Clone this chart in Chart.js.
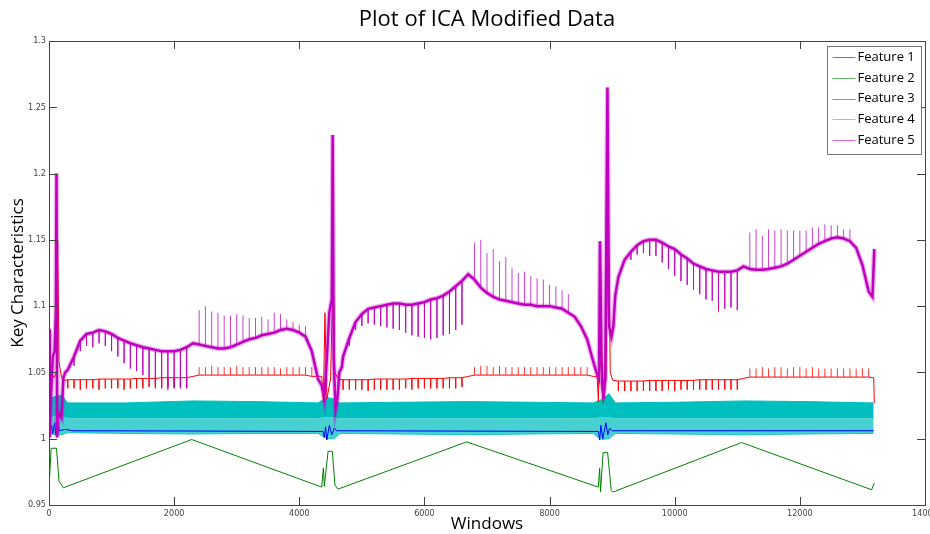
<!DOCTYPE html>
<html>
<head>
<meta charset="utf-8">
<title>Plot of ICA Modified Data</title>
<script src="https://cdn.jsdelivr.net/npm/chart.js@4.4.1/dist/chart.umd.min.js"></script>
<style>
  html, body { margin: 0; padding: 0; background: #fff; }
  #wrap { width: 930px; height: 534px; }
</style>
</head>
<body>
<div id="wrap"><canvas id="myChart" width="930" height="534"></canvas></div>
<script>
// series names and colours (MATLAB default-ish)
var labels = ['Feature 1', 'Feature 2', 'Feature 3', 'Feature 4', 'Feature 5'];
var colors = ['#0000ff', '#008000', '#ff0000', '#00bfbf', '#bf00bf'];

var xTicks = [0, 2000, 4000, 6000, 8000, 10000, 12000, 14000];
var yTicks = [0.95, 1, 1.05, 1.1, 1.15, 1.2, 1.25, 1.3];

// sample windows for the periodic features 3 and 5
var windows = [
  0, 100, 200, 300, 400, 500, 600, 700, 800, 900,
  1000, 1100, 1200, 1300, 1400, 1500, 1600, 1700, 1800, 1900,
  2000, 2100, 2200, 2300, 2400, 2500, 2600, 2700, 2800, 2900,
  3000, 3100, 3200, 3300, 3400, 3500, 3600, 3700, 3800, 3900,
  4000, 4100, 4200, 4300, 4400, 4500, 4600, 4700, 4800, 4900,
  5000, 5100, 5200, 5300, 5400, 5500, 5600, 5700, 5800, 5900,
  6000, 6100, 6200, 6300, 6400, 6500, 6600, 6700, 6800, 6900,
  7000, 7100, 7200, 7300, 7400, 7500, 7600, 7700, 7800, 7900,
  8000, 8100, 8200, 8300, 8400, 8500, 8600, 8700, 8800, 8900,
  9000, 9100, 9200, 9300, 9400, 9500, 9600, 9700, 9800, 9900,
  10000, 10100, 10200, 10300, 10400, 10500, 10600, 10700, 10800, 10900,
  11000, 11100, 11200, 11300, 11400, 11500, 11600, 11700, 11800, 11900,
  12000, 12100, 12200, 12300, 12400, 12500, 12600, 12700, 12800, 12900,
  13000, 13100, 13200
];

// Feature 5: band centre and spike tips
var f5Base = [
  null, null, null, 1.052, 1.062, 1.074, 1.079, 1.080, 1.082, 1.081,
  1.079, 1.076, 1.074, 1.072, 1.0705, 1.069, 1.068, 1.067, 1.066, 1.066,
  1.066, 1.067, 1.069, 1.072, 1.071, 1.070, 1.069, 1.068, 1.068, 1.069,
  1.071, 1.073, 1.075, 1.076, 1.078, 1.079, 1.080, 1.082, 1.083, 1.082,
  1.080, 1.077, 1.066, 1.045, null, null, null, 1.062, 1.076, 1.088,
  1.094, 1.098, 1.099, 1.100, 1.101, 1.102, 1.102, 1.101, 1.101, 1.102,
  1.103, 1.105, 1.106, 1.108, 1.111, 1.115, 1.119, 1.124, 1.120, 1.114,
  1.110, 1.107, 1.105, 1.104, 1.103, 1.102, 1.101, 1.101, 1.100, 1.100,
  1.100, 1.099, 1.098, 1.095, 1.092, 1.085, 1.075, 1.058, null, null,
  null, 1.122, 1.135, 1.141, 1.146, 1.149, 1.150, 1.150, 1.148, 1.145,
  1.143, 1.139, 1.136, 1.132, 1.130, 1.128, 1.127, 1.126, 1.126, 1.126,
  1.127, 1.130, 1.128, 1.1275, 1.1275, 1.128, 1.129, 1.130, 1.132, 1.135,
  1.138, 1.141, 1.144, 1.147, 1.149, 1.151, 1.152, 1.151, 1.149, 1.144,
  1.131, 1.111, null
];
var f5Tip = [
  null, null, null, null, 1.055, 1.066, 1.070, 1.069, 1.072, 1.070,
  1.066, 1.062, 1.057, 1.053, 1.051, 1.048, 1.045, 1.041, 1.039, 1.037,
  1.038, 1.039, 1.038, null, 1.097, 1.100, 1.096, 1.095, 1.093, 1.093,
  1.094, 1.093, 1.091, 1.091, 1.092, 1.090, 1.095, 1.094, 1.090, 1.088,
  1.086, 1.085, null, null, null, null, null, null, 1.070, 1.082,
  1.085, 1.087, 1.086, 1.085, 1.084, 1.083, 1.082, 1.080, 1.078, 1.077,
  1.076, 1.075, 1.076, 1.078, 1.079, 1.082, 1.086, null, 1.148, 1.150,
  1.140, 1.143, 1.134, 1.137, 1.129, 1.125, 1.126, 1.123, 1.121, 1.120,
  1.116, 1.115, 1.112, 1.109, null, null, null, null, null, null,
  null, null, null, 1.135, 1.139, 1.140, 1.138, 1.138, 1.133, 1.128,
  1.123, 1.119, 1.116, 1.1125, 1.109, 1.105, 1.104, 1.096, 1.098, 1.099,
  1.097, null, 1.1555, 1.158, 1.153, 1.158, 1.157, 1.158, 1.157, 1.157,
  1.1567, 1.157, 1.1594, 1.1594, 1.1617, 1.161, 1.161, 1.158, 1.158, null,
  null, null, null
];
// Feature 5 around the restarts
var f5BurstWin = [0, 10, 30, 60, 90, 110, 120, 130, 150, 200, 230, 260,
  4360, 4400, 4440, 4480, 4520, 4534, 4550, 4580, 4610, 4640, 4680,
  8750, 8790, 8806, 8830, 8860, 8890, 8925, 8950, 8990, 9020, 9050,
  13160, 13190];
var f5BurstVal = [1.082, 1.001, 1.030, 1.062, 1.066, 1.095, 1.200, 1.001, 1.020, 1.016, 1.046, 1.050,
  1.040, 1.030, 1.060, 1.095, 1.105, 1.229, 1.060, 1.022, 1.030, 1.050, 1.054,
  1.050, 1.045, 1.149, 1.060, 1.030, 1.045, 1.265, 1.085, 1.077, 1.085, 1.108,
  1.107, 1.143];

// Feature 3: level and sawtooth tips
var f3Base = [
  null, null, null, 1.0445, 1.0445, 1.0445, 1.0445, 1.0445, 1.045, 1.045,
  1.045, 1.045, 1.045, 1.045, 1.0455, 1.0455, 1.0455, 1.0455, 1.046, 1.046,
  1.046, 1.046, 1.046, 1.047, 1.048, 1.048, 1.048, 1.048, 1.048, 1.048,
  1.048, 1.048, 1.048, 1.048, 1.048, 1.048, 1.048, 1.048, 1.048, 1.048,
  1.048, 1.048, 1.047, 1.047, null, null, null, 1.0445, 1.0445, 1.0445,
  1.0445, 1.0445, 1.045, 1.045, 1.045, 1.045, 1.045, 1.045, 1.0455, 1.0455,
  1.0455, 1.0455, 1.0455, 1.0455, 1.046, 1.046, 1.046, 1.047, 1.048, 1.048,
  1.048, 1.048, 1.048, 1.048, 1.048, 1.048, 1.048, 1.048, 1.048, 1.048,
  1.048, 1.048, 1.048, 1.048, 1.048, 1.048, 1.048, 1.047, null, null,
  null, 1.0435, 1.0435, 1.0435, 1.0435, 1.0435, 1.044, 1.044, 1.044, 1.044,
  1.044, 1.044, 1.044, 1.044, 1.0445, 1.0445, 1.0445, 1.0445, 1.0445, 1.0445,
  1.0445, 1.0455, 1.0465, 1.0465, 1.0465, 1.0465, 1.0465, 1.0465, 1.0465, 1.0465,
  1.0465, 1.0465, 1.0465, 1.0465, 1.0465, 1.0465, 1.0465, 1.0465, 1.0465, 1.0465,
  1.0465, 1.0465, null
];
var f3Tip = [
  null, null, null, 1.038, 1.038, 1.037, 1.038, 1.038, 1.037, 1.038,
  1.038, 1.038, 1.037, 1.038, 1.038, 1.038, 1.039, 1.038, 1.038, 1.039,
  1.039, 1.038, 1.039, null, 1.054, 1.054, 1.055, 1.054, 1.054, 1.054,
  1.055, 1.054, 1.054, 1.054, 1.054, 1.054, 1.054, 1.053, 1.054, 1.054,
  1.054, 1.054, 1.054, null, null, null, null, 1.037, 1.037, 1.037,
  1.037, 1.036, 1.037, 1.037, 1.037, 1.037, 1.037, 1.038, 1.037, 1.038,
  1.038, 1.038, 1.038, 1.038, 1.038, 1.038, 1.039, null, 1.054, 1.055,
  1.055, 1.054, 1.055, 1.054, 1.054, 1.054, 1.054, 1.054, 1.054, 1.054,
  1.054, 1.054, 1.054, 1.054, 1.054, 1.054, 1.054, null, null, null,
  null, 1.036, 1.036, 1.036, 1.036, 1.036, 1.036, 1.036, 1.036, 1.037,
  1.036, 1.037, 1.037, 1.037, 1.037, 1.037, 1.037, 1.037, 1.037, 1.037,
  1.037, null, 1.053, 1.053, 1.054, 1.053, 1.054, 1.054, 1.053, 1.054,
  1.054, 1.053, 1.054, 1.053, 1.053, 1.053, 1.053, 1.053, 1.053, 1.053,
  1.053, 1.053, null
];
var f3BurstWin = [0, 15, 40, 80, 120, 139, 160, 200, 250,
  4360, 4385, 4410, 4440, 4500, 4540, 4570, 4620,
  8760, 8780, 8805, 8830, 8860, 8900, 8940, 8970, 9010,
  13180, 13190];
var f3BurstVal = [1.083, 1.044, 1.050, 1.046, 1.050, 1.150, 1.058, 1.046, 1.044,
  1.047, 1.028, 1.095, 1.030, 1.045, 1.128, 1.050, 1.045,
  1.047, 1.028, 1.095, 1.040, 1.027, 1.045, 1.165, 1.050, 1.044,
  1.046, 1.027];

// Feature 4: upper edge, dense middle and lower edge of the oscillating band
var f4Win = [0, 100, 200, 300, 1200, 2300, 3300, 4300, 4400, 4450, 4550, 4650,
  5600, 6700, 7700, 8700, 8800, 8850, 8950, 9050, 10000, 11100, 12100, 13180];
var f4High = [1.030, 1.032, 1.033, 1.027, 1.027, 1.0285, 1.028, 1.027, 1.030, 1.031, 1.030, 1.027,
  1.0275, 1.028, 1.0275, 1.027, 1.029, 1.030, 1.034, 1.027, 1.0275, 1.0285, 1.028, 1.027];
var f4Mid = [1.016, 1.017, 1.017, 1.0155, 1.0155, 1.0155, 1.0155, 1.0155, 1.016, 1.016, 1.016, 1.0155,
  1.0155, 1.0155, 1.0155, 1.0155, 1.016, 1.016, 1.016, 1.0155, 1.0155, 1.0155, 1.0155, 1.0155];
var f4Low = [1.004, 1.003, 1.003, 1.0045, 1.004, 1.0035, 1.004, 1.004, 1.001, 1.000, 1.000, 1.004,
  1.0035, 1.003, 1.0035, 1.004, 1.000, 0.9995, 1.000, 1.004, 1.0035, 1.003, 1.0035, 1.004];

// Feature 1
var f1Win = [0, 40, 60, 90, 110, 140, 160, 250, 400, 2300, 4380, 4400, 4420, 4440, 4480, 4520,
  4560, 4600, 8780, 8800, 8820, 8850, 8900, 8930, 8960, 9000, 13180];
var f1Val = [1.008, 1.010, 1.004, 1.012, 1.003, 1.016, 1.006, 1.007, 1.006, 1.0058, 1.0055, 1.001,
  1.009, 0.999, 1.010, 1.003, 1.008, 1.006, 1.0055, 0.999, 1.010, 1.000, 1.012, 1.003, 1.008, 1.006, 1.006];

// Feature 2
var f2Win = [0, 35, 120, 160, 230, 2280, 4358, 4385, 4400, 4460, 4528, 4570, 4620, 6675,
  8778, 8800, 8815, 8855, 8928, 8985, 9010, 11070, 13147, 13190];
var f2Val = [0.9635, 0.9928, 0.9928, 0.968, 0.963, 0.9994, 0.9635, 0.978, 0.964, 0.9905, 0.9905, 0.965,
  0.962, 0.9976, 0.9635, 0.9777, 0.9597, 0.9895, 0.9895, 0.961, 0.9597, 0.9971, 0.9615, 0.9665];

function pts(xs, ys) {
  var out = [];
  for (var i = 0; i < xs.length; i++) {
    if (ys[i] !== null) out.push({x: xs[i], y: ys[i]});
  }
  return out;
}

function merged(a, b) {
  return a.concat(b).sort(function (p, q) { return p.x - q.x; });
}

// each spike: from the level up/down to its tip, then a break
function spikes(xs, base, tip) {
  var out = [];
  for (var i = 0; i < xs.length; i++) {
    if (tip[i] === null || base[i] === null) continue;
    out.push({x: xs[i], y: base[i]}, {x: xs[i], y: tip[i]}, {x: xs[i], y: null});
  }
  return out;
}

var tickFont = {family: '"Liberation Sans Narrow", "DejaVu Sans Condensed", sans-serif', size: 9};
var textFont = '"Open Sans", "Noto Sans", sans-serif';

// axes box with inward ticks on all sides
var boxPlugin = {
  id: 'box',
  afterDatasetsDraw: function (chart) {
    var a = chart.chartArea, c = chart.ctx;
    var sx = chart.scales.x, sy = chart.scales.y;
    c.save();
    c.strokeStyle = '#444';
    c.lineWidth = 1;
    c.strokeRect(Math.round(a.left) + 0.5, Math.round(a.top) + 0.5,
      Math.round(a.right - a.left), Math.round(a.bottom - a.top));
    c.beginPath();
    sx.ticks.forEach(function (t) {
      var px = Math.round(sx.getPixelForValue(t.value)) + 0.5;
      c.moveTo(px, a.bottom); c.lineTo(px, a.bottom - 8);
      c.moveTo(px, a.top); c.lineTo(px, a.top + 8);
    });
    sy.ticks.forEach(function (t) {
      var py = Math.round(sy.getPixelForValue(t.value)) + 0.5;
      c.moveTo(a.left, py); c.lineTo(a.left + 8, py);
      c.moveTo(a.right, py); c.lineTo(a.right - 8, py);
    });
    c.stroke();
    c.restore();
  }
};

// legend box in the upper right corner of the axes
var legendPlugin = {
  id: 'boxLegend',
  afterDraw: function (chart) {
    var a = chart.chartArea, c = chart.ctx;
    var w = 94, h = 108;
    var x0 = Math.round(a.right - 98) + 0.5, y0 = Math.round(a.top + 5) + 0.5;
    c.save();
    c.fillStyle = '#fff';
    c.fillRect(x0, y0, w, h);
    c.strokeStyle = '#777';
    c.lineWidth = 1;
    c.strokeRect(x0, y0, w, h);
    c.font = '13px ' + textFont;
    c.textBaseline = 'middle';
    c.textAlign = 'left';
    labels.forEach(function (lab, k) {
      var y = y0 + 10.5 + k * 20.8;
      c.strokeStyle = colors[k];
      c.globalAlpha = 0.6;
      c.beginPath();
      c.moveTo(x0 + 5, Math.round(y) + 0.5);
      c.lineTo(x0 + 28, Math.round(y) + 0.5);
      c.stroke();
      c.globalAlpha = 1;
      c.fillStyle = '#000';
      c.fillText(lab, x0 + 30, y);
    });
    c.restore();
  }
};

var f5Line = merged(pts(windows, f5Base), pts(f5BurstWin, f5BurstVal));
var f3Line = merged(pts(windows, f3Base), pts(f3BurstWin, f3BurstVal));

var ctx = document.getElementById('myChart').getContext('2d');
var chart = new Chart(ctx, {
  type: 'line',
  data: {
    datasets: [{
      label: labels[4] + ' spikes',
      data: spikes(windows, f5Base, f5Tip),
      borderColor: 'rgba(191,0,191,0.75)',
      borderWidth: 1
    }, {
      label: labels[4],
      data: f5Line,
      borderColor: colors[4],
      borderWidth: 2.5
    }, {
      label: labels[4] + ' halo',
      data: f5Line,
      borderColor: 'rgba(191,0,191,0.3)',
      borderWidth: 5
    }, {
      label: labels[2] + ' spikes',
      data: spikes(windows, f3Base, f3Tip),
      borderColor: 'rgba(255,0,0,0.8)',
      borderWidth: 1
    }, {
      label: labels[2],
      data: f3Line,
      borderColor: colors[2],
      borderWidth: 1
    }, {
      label: labels[0],
      data: pts(f1Win, f1Val),
      borderColor: colors[0],
      borderWidth: 1
    }, {
      label: labels[3] + ' high',
      data: pts(f4Win, f4High),
      borderColor: colors[3],
      borderWidth: 1,
      fill: false
    }, {
      label: labels[3] + ' mid',
      data: pts(f4Win, f4Mid),
      borderWidth: 0,
      borderColor: 'rgba(0,0,0,0)',
      backgroundColor: colors[3],
      fill: '-1'
    }, {
      label: labels[3],
      data: pts(f4Win, f4Low),
      borderColor: 'rgba(0,191,191,0.8)',
      borderWidth: 1,
      backgroundColor: 'rgba(0,191,191,0.72)',
      fill: '-1'
    }, {
      label: labels[1],
      data: pts(f2Win, f2Val),
      borderColor: colors[1],
      borderWidth: 1
    }]
  },
  options: {
    responsive: false,
    animation: false,
    devicePixelRatio: 1,
    layout: {padding: {left: 0, right: 5, top: 0, bottom: 0}},
    elements: {point: {radius: 0}, line: {tension: 0}},
    plugins: {
      legend: {display: false},
      tooltip: {enabled: false},
      title: {
        display: true,
        fullSize: false,
        text: 'Plot of ICA Modified Data',
        color: '#000',
        font: {family: textFont, size: 22, weight: 'normal'},
        padding: {top: 7, bottom: 7.6}
      }
    },
    scales: {
      x: {
        type: 'linear',
        min: 0,
        max: 14000,
        afterBuildTicks: function (s) { s.ticks = xTicks.map(function (v) { return {value: v}; }); },
        afterFit: function (s) { s.height = 29; s.paddingLeft = 0; s.paddingRight = 0; },
        ticks: {
          autoSkip: false, maxRotation: 0, padding: 3, color: '#444', font: tickFont,
          callback: function (v) { return String(v); }
        },
        grid: {display: false, drawTicks: false},
        border: {display: false},
        title: {display: true, text: 'Windows', color: '#000',
          font: {family: textFont, size: 17}, padding: {top: 0, bottom: 0}}
      },
      y: {
        type: 'linear',
        min: 0.95,
        max: 1.3,
        afterBuildTicks: function (s) { s.ticks = yTicks.map(function (v) { return {value: v}; }); },
        afterFit: function (s) { s.width = 49; },
        ticks: {
          autoSkip: false, padding: 3, color: '#444', font: tickFont,
          callback: function (v) { return String(+v.toFixed(2)); }
        },
        grid: {display: false, drawTicks: false},
        border: {display: false},
        title: {display: true, text: 'Key Characteristics', color: '#000',
          font: {family: textFont, size: 17}, padding: {top: 8, bottom: 0}}
      }
    }
  },
  plugins: [boxPlugin, legendPlugin]
});
</script>
</body>
</html>
